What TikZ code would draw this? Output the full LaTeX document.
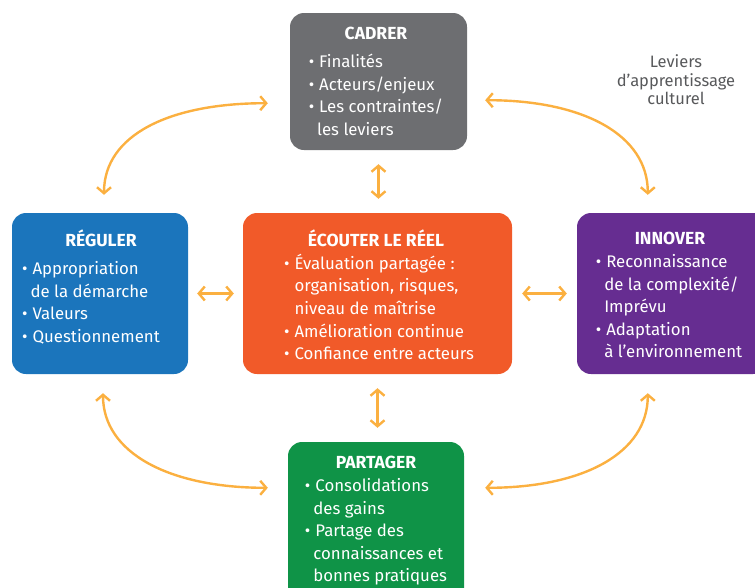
\documentclass[tikz,border=0pt]{standalone}
\usepackage{fontspec}
\setmainfont{Fira Sans}
\usetikzlibrary{arrows.meta,positioning}
\definecolor{cgris}{HTML}{6D6E71}
\definecolor{cbleu}{HTML}{1B75BC}
\definecolor{corange}{HTML}{F15A29}
\definecolor{cviolet}{HTML}{662D91}
\definecolor{cvert}{HTML}{0F9347}
\definecolor{cfleche}{HTML}{FBB040}
\definecolor{ctexte}{HTML}{58595B}
\newcommand{\pt}{\textbullet\kern5pt}
\newcommand{\rt}{\hspace{-2pt}}
\tikzset{
  boite/.style={rounded corners=14pt, inner sep=0pt},
  titre/.style={text=white, font=\fontsize{17.5}{20}\selectfont\bfseries, inner sep=0pt},
  liste/.style={text=white, font=\fontsize{16.8}{22.6}\selectfont, inner sep=0pt},
  fleche/.style={draw=cfleche, line width=2.4pt,
    {Straight Barb[length=6pt,width=14pt,line width=2.4pt]}-{Straight Barb[length=6pt,width=14pt,line width=2.4pt]}}
}
\begin{document}
\begin{tikzpicture}[x=1pt,y=-1pt]
\useasboundingbox (0,0) rectangle (755,587);
\clip (0,0) rectangle (755,587);

% boxes
\node[boite, fill=cgris, minimum width=177pt, minimum height=137pt] (cadrer) at (378.5,81.5) {};
\node[boite, fill=cbleu, minimum width=176pt, minimum height=161pt] (reguler) at (100,293.5) {};
\node[boite, fill=corange, minimum width=269pt, minimum height=161pt] (ecouter) at (377.5,293.5) {};
\node[boite, fill=cviolet, minimum width=190pt, minimum height=161pt] (innover) at (672,293.5) {};
\node[boite, fill=cvert, minimum width=176pt, minimum height=160pt] (partager) at (376,522) {};

% titles
\node[titre] (cadrer-t) at (376,33) {CADRER};
\node[titre] (reguler-t) at (101,238) {RÉGULER};
\node[titre] (ecouter-t) at (376,238) {ÉCOUTER LE RÉEL};
\node[titre] (innover-t) at (670,238) {INNOVER};
\node[titre] (partager-t) at (376,462) {PARTAGER};

% lists
\node[liste, below=12pt of cadrer-t] (cadrer-l) {\begin{tabular}{@{}l@{}l@{}}
\pt&Finalités\\ \pt&Acteurs/enjeux\\ \pt&Les contraintes/\\ &\rt les leviers\end{tabular}};
\node[liste, below=12pt of reguler-t, xshift=-10pt] (reguler-l) {\begin{tabular}{@{}l@{}l@{}}
\pt&Appropriation\\ &\rt de la démarche\\ \pt&Valeurs\\ \pt&Questionnement\end{tabular}};
\node[liste, below=6.5pt of ecouter-t, xshift=3pt] (ecouter-l) {\begin{tabular}{@{}l@{}l@{}}
\pt&Évaluation partagée :\\ &organisation, risques,\\ &niveau de maîtrise\\ \pt&Amélioration continue\\ \pt&Confiance entre acteurs\end{tabular}};
\node[liste, below=7pt of innover-t, xshift=-1pt] (innover-l) {\begin{tabular}{@{}l@{}l@{}}
\pt&Reconnaissance\\ &\rt de la complexité/\\ &\rt Imprévu\\ \pt&Adaptation\\ &\rt à l’environnement\end{tabular}};
\node[liste, below=7pt of partager-t] (partager-l) {\begin{tabular}{@{}l@{}l@{}}
\pt&Consolidations\\ &\rt des gains\\ \pt&Partage des\\ &\rt connaissances et\\ &\rt bonnes pratiques\end{tabular}};

% side label
\node[text=ctexte, font=\fontsize{16.5}{18.5}\selectfont, align=center] (leviers) at (676,80)
  {Leviers\\d’apprentissage\\culturel};

% straight arrows
\draw[fleche, shorten <=14pt, shorten >=14pt] (cadrer.south) -- (cadrer.south |- ecouter.north);
\draw[fleche, shorten <=14pt, shorten >=14pt] (ecouter.south) -- (ecouter.south |- partager.north);
\draw[fleche, shorten <=9pt, shorten >=9pt] (reguler.east) -- (ecouter.west);
\draw[fleche, shorten <=10pt, shorten >=10pt] (ecouter.east) -- (innover.west);

% curved arrows
\draw[fleche] ([xshift=-22pt,yshift=47pt]cadrer.south west) .. controls +(-98,0) and +(0,-60) .. ([xshift=4pt,yshift=18pt]reguler.north);
\draw[fleche] ([xshift=18pt,yshift=50pt]cadrer.south east) .. controls +(98,0) and +(0,-60) .. ([xshift=71pt,yshift=18pt]innover.north west);
\draw[fleche] ([xshift=3pt,yshift=-19pt]reguler.south) .. controls +(0,60) and +(-98,0) .. ([xshift=-20pt,yshift=-46pt]partager.north west);
\draw[fleche] ([xshift=71pt,yshift=-19pt]innover.south west) .. controls +(0,60) and +(98,0) .. ([xshift=21pt,yshift=-46pt]partager.north east);
\end{tikzpicture}
\end{document}
